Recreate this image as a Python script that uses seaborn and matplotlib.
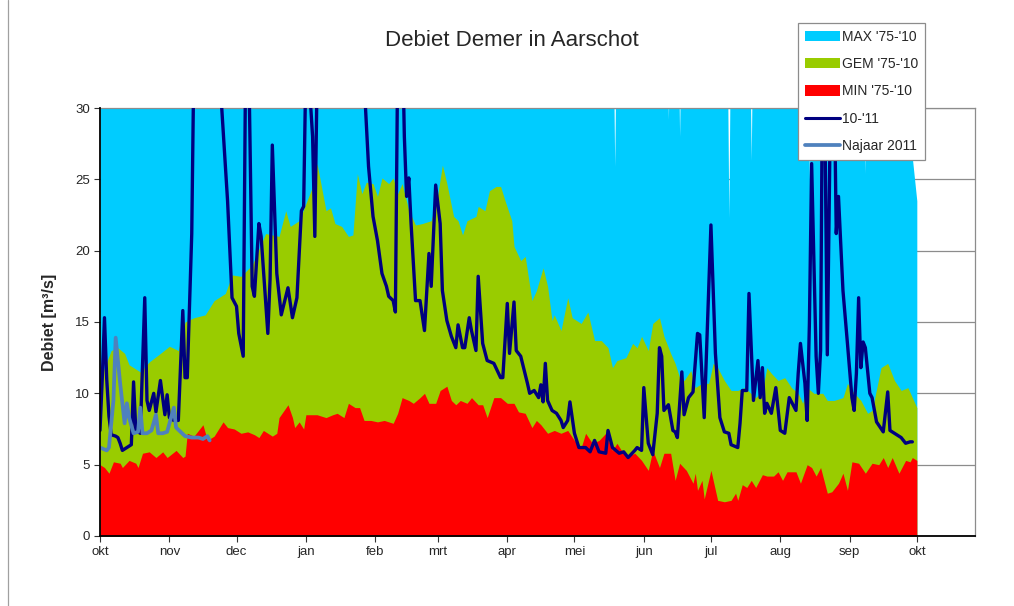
import numpy as np
import pandas as pd
import matplotlib
matplotlib.use("Agg")
import matplotlib.pyplot as plt
import seaborn as sns
from matplotlib.patches import Patch
from matplotlib.lines import Line2D

# ---------------- data (day offset from 1 Oct, discharge m3/s) ----------------
start_date = "2010-10-01"
end_date = "2011-10-01"
month_labels = ["okt", "nov", "dec", "jan", "feb", "mrt", "apr", "mei",
                "jun", "jul", "aug", "sep", "okt"]

max_days = [0, 229, 230, 231, 253, 254, 255, 258, 259, 260, 280, 281, 282,
            290, 291, 292, 316, 317, 318, 341, 342, 343, 359, 363, 365]
max_vals = [40, 40, 25.9, 40, 40, 29.2, 40, 40, 28.0, 40, 40, 22.3, 40,
            40, 26.3, 40, 40, 25.0, 40, 40, 25.4, 40, 30.0, 26.5, 23.5]

gem_days = [0, 5, 8, 11, 13, 18, 22, 27, 31, 35, 38, 42, 47, 51, 56, 59, 63, 68,
            74, 80, 83, 85, 89, 92, 95, 97, 101, 103, 105, 108, 111, 113, 115, 117,
            119, 122, 124, 126, 129, 131, 133, 135, 138, 141, 144, 148, 151, 153,
            155, 158, 160, 162, 164, 168, 169, 172, 174, 177, 179, 181, 184, 185,
            188, 190, 193, 195, 198, 200, 202, 203, 206, 209, 211, 215, 218, 221,
            224, 227, 229, 231, 235, 238, 240, 242, 245, 247, 250, 252, 255, 257,
            259, 261, 264, 266, 269, 272, 274, 276, 279, 282, 285, 288, 293, 296,
            298, 300, 303, 306, 309, 312, 314, 316, 319, 323, 325, 328, 332, 334,
            336, 340, 343, 345, 349, 352, 355, 358, 361, 363, 365]
gem_vals = [11.0, 13.0, 13.2, 12.8, 12.0, 11.5, 12.2, 12.8, 13.3, 13.0, 15.0, 15.3,
            15.5, 16.5, 17.0, 18.3, 18.2, 19.0, 21.2, 21.0, 22.8, 21.7, 22.1, 23.3,
            24.5, 26.1, 22.8, 23.0, 21.9, 21.7, 21.0, 21.1, 25.4, 24.0, 24.8, 24.7,
            23.8, 25.1, 24.7, 25.1, 24.0, 24.7, 22.8, 21.8, 21.9, 22.1, 24.0, 26.0,
            24.7, 22.4, 22.1, 21.1, 22.1, 22.4, 23.1, 22.8, 24.2, 24.5, 24.5, 23.5,
            22.1, 20.3, 19.3, 19.6, 16.5, 17.2, 18.8, 17.5, 15.1, 15.5, 14.4, 16.7,
            15.3, 14.9, 15.7, 13.7, 13.7, 13.2, 11.8, 12.3, 12.5, 13.5, 13.2, 14.0,
            13.0, 14.9, 15.3, 14.0, 12.8, 12.1, 11.1, 10.9, 11.6, 10.4, 10.7, 10.7,
            12.1, 11.8, 10.9, 10.2, 10.2, 10.4, 9.7, 10.2, 11.8, 11.4, 10.9, 11.1,
            10.4, 10.0, 9.3, 10.4, 10.0, 10.0, 9.5, 9.5, 9.7, 10.7, 10.2, 9.5, 8.6,
            8.8, 11.8, 12.1, 10.9, 10.2, 10.4, 9.7, 9.0]

min_days = [0, 2, 4, 6, 9, 10, 13, 16, 17, 19, 22, 25, 28, 30, 34, 37, 38, 39, 42,
            46, 48, 51, 55, 57, 60, 63, 66, 69, 71, 73, 77, 79, 80, 84, 86, 87, 89,
            91, 92, 97, 101, 104, 106, 109, 111, 114, 116, 118, 121, 124, 127, 131,
            133, 135, 138, 140, 143, 145, 147, 150, 152, 155, 157, 159, 161, 164,
            166, 169, 171, 173, 176, 179, 182, 185, 187, 190, 193, 195, 197, 200,
            203, 206, 209, 212, 215, 217, 220, 223, 226, 229, 231, 233, 236, 239,
            242, 245, 247, 250, 252, 255, 257, 259, 262, 265, 266, 267, 269, 270,
            273, 274, 276, 279, 282, 284, 285, 287, 289, 291, 293, 296, 298, 301,
            303, 305, 307, 311, 313, 316, 318, 320, 322, 325, 327, 330, 332, 334,
            336, 339, 342, 345, 348, 350, 352, 354, 357, 360, 362, 363, 365]
min_vals = [5.0, 4.8, 4.4, 5.2, 5.1, 4.8, 5.3, 5.1, 4.8, 5.8, 5.9, 5.5, 5.9, 5.5,
            6.0, 5.5, 5.6, 7.2, 7.0, 7.8, 6.7, 7.0, 8.0, 7.6, 7.5, 7.2, 7.3, 7.1,
            6.9, 7.4, 7.0, 7.2, 8.3, 9.2, 8.3, 7.6, 8.0, 7.5, 8.5, 8.5, 8.3, 8.5,
            8.6, 8.3, 9.3, 9.0, 9.0, 8.1, 8.1, 8.0, 8.1, 7.9, 8.6, 9.7, 9.5, 9.3,
            9.7, 10.0, 9.3, 9.3, 10.2, 10.5, 9.5, 9.2, 9.5, 9.3, 9.7, 9.2, 9.2, 8.3,
            9.7, 9.7, 9.3, 9.3, 8.7, 8.6, 7.6, 8.1, 7.8, 7.2, 7.4, 7.2, 7.4, 6.7,
            6.2, 7.2, 6.5, 6.7, 7.2, 6.0, 6.5, 6.0, 5.6, 5.8, 5.3, 4.6, 6.0, 4.8,
            5.8, 5.8, 3.9, 5.1, 4.6, 3.7, 4.4, 3.2, 3.9, 2.6, 4.6, 3.9, 2.5, 2.4,
            2.5, 3.0, 2.5, 3.6, 3.4, 3.9, 3.4, 4.3, 4.2, 4.2, 4.5, 3.9, 4.5, 4.5,
            3.7, 5.0, 4.8, 4.2, 4.8, 3.0, 3.1, 3.7, 4.4, 3.2, 5.2, 5.1, 4.4, 5.1,
            5.0, 5.5, 4.8, 5.5, 4.4, 5.3, 5.2, 5.5, 5.3]

y1011_days = [0, 1, 2, 3, 4, 5, 7, 8, 9, 10, 12, 14, 15, 16, 18, 20, 21, 22, 24, 25,
              27, 29, 30, 31, 33, 35, 37, 38, 39, 41, 42, 44, 48, 52, 54, 57, 59, 61,
              62, 64, 65, 66, 67, 68, 69, 71, 72, 75, 76, 77, 79, 81, 84, 86, 88, 90,
              91, 92, 93, 94, 95, 96, 97, 98, 102, 107, 112, 116, 118, 120, 122, 124,
              126, 128, 129, 131, 132, 133, 134, 135, 136, 137, 138, 139, 141, 143,
              145, 147, 148, 150, 152, 153, 155, 157, 159, 160, 162, 163, 165, 166,
              168, 169, 171, 173, 176, 179, 180, 182, 183, 185, 186, 188, 191, 192,
              194, 196, 197, 198, 199, 200, 202, 204, 206, 207, 209, 210, 212, 214,
              217, 219, 221, 223, 226, 227, 229, 232, 234, 236, 239, 240, 242, 243,
              245, 247, 249, 250, 251, 252, 254, 256, 257, 258, 260, 261, 263, 265,
              267, 268, 270, 273, 275, 277, 279, 281, 282, 285, 286, 287, 289, 290,
              292, 294, 295, 296, 297, 298, 300, 302, 304, 306, 308, 311, 312, 313,
              315, 316, 317, 318, 320, 321, 322, 323, 324, 325, 326, 327, 328, 329,
              330, 332, 334, 336, 337, 338, 339, 340, 341, 342, 344, 345, 347, 350,
              352, 353, 356, 358, 360, 362, 363]
y1011_vals = [7.4, 11.0, 15.3, 11.0, 8.4, 7.1, 7.0, 6.9, 6.5, 6.0, 6.2, 6.4, 10.8,
              7.4, 7.2, 16.7, 9.5, 8.8, 10.0, 8.7, 10.9, 8.5, 9.9, 8.3, 8.1, 8.1,
              15.8, 11.1, 11.1, 21.2, 34, 38, 40, 36, 31, 23.5, 16.7, 16.1, 14.2,
              12.6, 32, 38, 28, 17.5, 16.8, 21.9, 21.0, 14.2, 18.0, 27.4, 18.4, 15.5,
              17.4, 15.3, 16.7, 22.8, 23.1, 33, 35, 30.5, 28, 21.0, 32, 38, 45, 50,
              45, 38, 32, 25.9, 22.4, 20.7, 18.4, 17.5, 16.8, 16.5, 15.7, 33, 40, 36,
              28, 23.8, 25.1, 21.9, 16.5, 16.5, 14.4, 19.8, 17.5, 24.6, 21.9, 17.2,
              15.1, 14.0, 13.2, 14.8, 13.2, 13.2, 15.3, 14.4, 13.0, 18.2, 13.5, 12.3,
              12.1, 11.1, 11.1, 16.3, 12.8, 16.4, 13.0, 12.6, 10.7, 10.0, 10.2, 9.7,
              10.6, 9.4, 12.1, 9.5, 8.8, 8.6, 8.1, 7.6, 8.1, 9.4, 7.2, 6.2, 6.2, 5.9,
              6.7, 5.9, 5.8, 7.4, 6.2, 5.8, 5.9, 5.5, 6.0, 6.2, 6.0, 10.4, 6.5, 5.7,
              8.6, 13.2, 12.6, 8.8, 9.2, 7.4, 7.3, 6.9, 11.5, 8.5, 9.7, 10.1, 14.2,
              14.1, 8.3, 21.8, 12.8, 8.3, 7.3, 7.2, 6.4, 6.2, 7.9, 10.2, 10.2, 17.0,
              9.5, 12.3, 9.7, 11.8, 8.6, 9.3, 8.6, 10.4, 7.4, 7.2, 9.7, 8.8, 11.4,
              13.5, 10.7, 8.1, 14.9, 26.1, 12.6, 10.0, 13.0, 36, 28, 12.7, 25, 40,
              33, 21.2, 23.8, 17.2, 13.5, 9.7, 8.8, 11.4, 16.7, 11.8, 13.6, 13.2,
              10.0, 9.7, 8.0, 7.3, 10.1, 7.4, 7.1, 6.9, 6.5, 6.6, 6.6]

najaar_days = [0, 3, 4, 6, 7, 9, 11, 12, 13, 15, 17, 18, 19, 21, 23, 25, 26, 28, 30,
               33, 34, 36, 38, 41, 44, 46, 48, 49]
najaar_vals = [6.2, 6.0, 6.2, 9.5, 13.9, 10.7, 7.9, 9.3, 8.3, 7.2, 7.3, 9.0, 7.2,
               7.2, 7.4, 8.5, 7.2, 7.2, 7.3, 9.0, 7.6, 7.3, 7.0, 6.9, 6.9, 6.8, 7.0,
               6.7]

# ---------------- styling ----------------
sns.set_theme(style="white")
plt.rcParams["font.family"] = ["Liberation Sans", "DejaVu Sans"]

C_MAX = "#00CCFF"
C_GEM = "#99CC00"
C_MIN = "#FF0000"
C_1011 = "#000080"
C_NAJ = "#4F81BD"

fig = plt.figure(figsize=(10.14, 6.06), dpi=100)
ax = fig.add_axes([100 / 1014, 70 / 606, 875 / 1014, 428 / 606])

# grid behind
ax.set_axisbelow(True)
ax.yaxis.grid(True, color="#8c8c8c", lw=0.9)
ax.xaxis.grid(False)

ax.fill_between(max_days, 0, max_vals, color=C_MAX, lw=0, zorder=2)
ax.fill_between(gem_days, 0, gem_vals, color=C_GEM, lw=0, zorder=3)
ax.fill_between(min_days, 0, min_vals, color=C_MIN, lw=0, zorder=4)

df_1011 = pd.DataFrame({"dag": y1011_days, "debiet": y1011_vals})
df_naj = pd.DataFrame({"dag": najaar_days, "debiet": najaar_vals})
sns.lineplot(data=df_1011, x="dag", y="debiet", color=C_1011, lw=2.4,
             estimator=None, sort=False, ax=ax, zorder=5, legend=False,
             solid_joinstyle="round", solid_capstyle="round")
sns.lineplot(data=df_naj, x="dag", y="debiet", color=C_NAJ, lw=2.7,
             estimator=None, sort=False, ax=ax, zorder=6, legend=False,
             solid_joinstyle="round", solid_capstyle="round")

# axes
month_starts = pd.date_range(start_date, end_date, freq="MS")
tick_days = [(d - pd.Timestamp(start_date)).days for d in month_starts]
ax.set_xlim(0, 391)
ax.set_ylim(0, 30)
ax.set_xticks(tick_days)
ax.set_xticklabels(month_labels, fontsize=9.5)
ax.set_yticks(np.arange(0, 31, 5))
ax.set_yticklabels([str(v) for v in range(0, 31, 5)], fontsize=9.5)
ax.tick_params(axis="both", direction="out", length=4, width=0.8, color="#333333",
               left=True, bottom=True, pad=3)
ax.set_xlabel("")
ax.set_ylabel("Debiet [m³/s]", fontsize=11.5, fontweight="bold", labelpad=13)

for side in ["left", "bottom"]:
    ax.spines[side].set_color("black")
    ax.spines[side].set_linewidth(1.3)
    ax.spines[side].set_zorder(7)
for side in ["top", "right"]:
    ax.spines[side].set_color("#8c8c8c")
    ax.spines[side].set_linewidth(0.9)

fig.text(512 / 1014, 1 - 40 / 606, "Debiet Demer in Aarschot", ha="center",
         va="center", fontsize=16)

handles = [
    Patch(facecolor=C_MAX, edgecolor="none"),
    Patch(facecolor=C_GEM, edgecolor="none"),
    Patch(facecolor=C_MIN, edgecolor="none"),
    Line2D([0], [0], color=C_1011, lw=2.2),
    Line2D([0], [0], color=C_NAJ, lw=2.7),
]
labels = ["MAX '75-'10", "GEM '75-'10", "MIN '75-'10", "10-'11", "Najaar 2011"]
leg = fig.legend(handles, labels, loc="upper left",
                 bbox_to_anchor=(798 / 1014, 1 - 23 / 606), fontsize=10,
                 frameon=True, fancybox=False, shadow=False, framealpha=1,
                 edgecolor="#8c8c8c", handlelength=2.5, handleheight=0.75,
                 handletextpad=0.15, labelspacing=0.95, borderpad=0.5,
                 borderaxespad=0)
leg.get_frame().set_linewidth(0.9)

# outer chart border (left edge)
fig.add_artist(Line2D([7.5 / 1014, 7.5 / 1014], [0, 1], color="#a0a0a0", lw=0.9))

fig.savefig("out.png", dpi=100)
